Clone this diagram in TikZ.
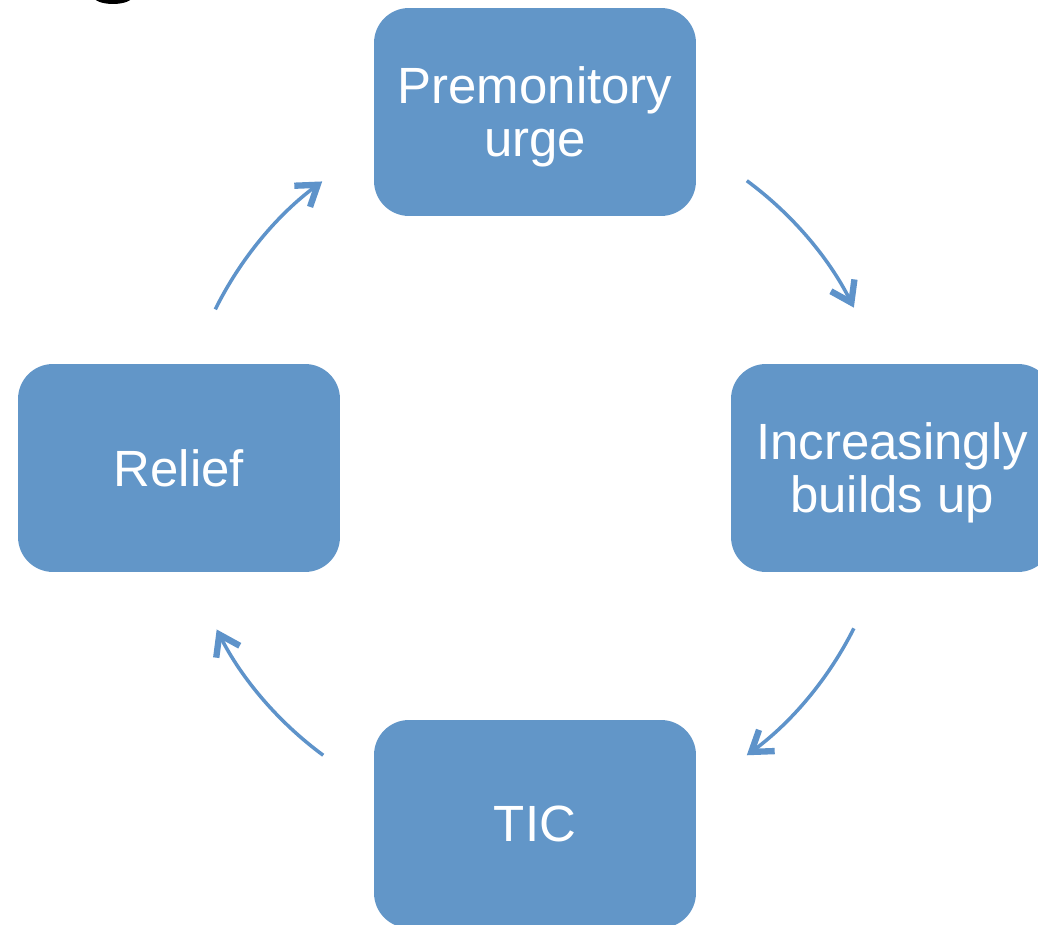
\documentclass[tikz,border=0pt]{standalone}
\usepackage{fontspec}
\setmainfont{Liberation Sans}
\usetikzlibrary{arrows.meta}
\definecolor{boxblue}{HTML}{6296C8}
\definecolor{arrblue}{HTML}{5E93CA}
\newcommand{\twolines}[2]{\begin{tabular}{@{}c@{}}\rule{0pt}{29.5pt}#1\\#2\end{tabular}}
\begin{document}
\begin{tikzpicture}[x=0.02cm,y=0.02cm,
  stagebox/.style={draw=none, fill=boxblue, rounded corners=0.7cm,
    minimum width=6.44cm, minimum height=4.16cm, text=white, align=center,
    inner sep=0pt, font=\fontsize{29}{30.5}\selectfont},
  cyclearrow/.style={draw=arrblue, line width=2pt,
    -{Straight Barb[length=11pt,width=15pt,line width=3.6pt]}}]
\useasboundingbox (0,0) rectangle (1038,925);
\fill[white] (0,0) rectangle (1038,925);
% fragment of a cut-off letter at top left
\fill[black] (113,929) ellipse[x radius=0.4cm, y radius=0.16cm];
\node[stagebox] (urge) at (535,813) {\twolines{Premonitory}{urge}};
\node[stagebox] (build) at (892,457) {\twolines{Increasingly}{builds up}};
\node[stagebox] (tic) at (535,101) {TIC};
\node[stagebox] (relief) at (179,457) {Relief};
\coordinate (c) at (535,457);
\draw[cyclearrow] ([shift={(53.6:7.14cm)}]c) arc[start angle=53.6, end angle=26.7, radius=7.14cm];
\draw[cyclearrow] ([shift={(-26.7:7.14cm)}]c) arc[start angle=-26.7, end angle=-53.6, radius=7.14cm];
\draw[cyclearrow] ([shift={(-126.4:7.14cm)}]c) arc[start angle=-126.4, end angle=-153.1, radius=7.14cm];
\draw[cyclearrow] ([shift={(153.6:7.14cm)}]c) arc[start angle=153.6, end angle=126.6, radius=7.14cm];
\end{tikzpicture}
\end{document}
